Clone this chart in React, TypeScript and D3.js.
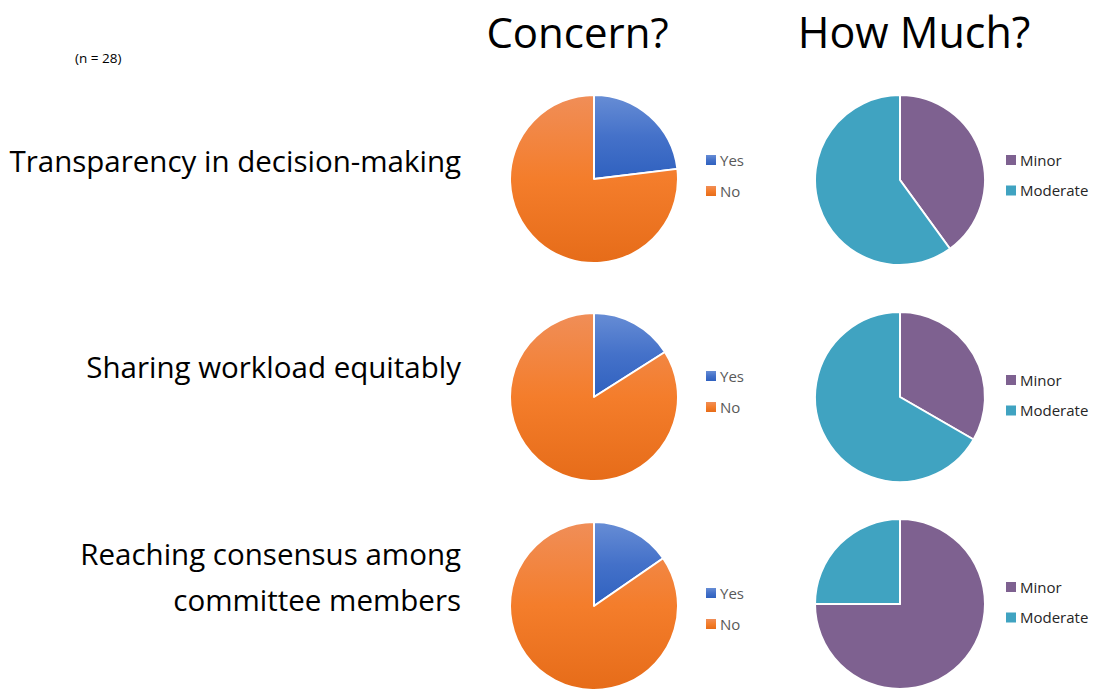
import React from "react";
import * as d3 from "d3";

const sampleNote = "(n = 28)";
const columnTitles = ["Concern?", "How Much?"];
const rowLabels = [
  ["Transparency in decision-making"],
  ["Sharing workload equitably"],
  ["Reaching consensus among", "committee members"],
];
const concernCategories = ["Yes", "No"];
const concernYes = [6, 4, 4];
const concernNo = [20, 21, 22];
const severityCategories = ["Minor", "Moderate"];
const severityMinor = [2, 1, 3];
const severityModerate = [3, 2, 1];

const W = 1094;
const H = 690;
const FONT = "'Open Sans', 'Noto Sans', sans-serif";

const concernCx = 594;
const severityCx = 900;
const rowCy = [179, 397, 606];
const severityCy = [180, 397, 604];
const rConcern = 84;
const rSeverity = 85;

const concernFill = ["url(#gBlue)", "url(#gOrange)"];
const severityFill = ["#7e6190", "#40a3c1"];

export default function App() {
  const pie = d3
    .pie<number>()
    .sort(null)
    .value((d) => d);
  const arcC = d3.arc<d3.PieArcDatum<number>>().innerRadius(0).outerRadius(rConcern);
  const arcS = d3.arc<d3.PieArcDatum<number>>().innerRadius(0).outerRadius(rSeverity);

  const labelY = [172, 378];
  return (
    <svg
      width={W}
      height={H}
      style={{ position: "absolute", left: 0, top: 0, background: "#fff" }}
      fontFamily={FONT}
    >
      <defs>
        <linearGradient id="gBlue" x1="0" y1="0" x2="0" y2="1">
          <stop offset="0" stopColor="#678dd5" />
          <stop offset="0.5" stopColor="#4471c9" />
          <stop offset="1" stopColor="#2f61bf" />
        </linearGradient>
        <linearGradient id="gOrange" x1="0" y1="0" x2="0" y2="1">
          <stop offset="0" stopColor="#f08e58" />
          <stop offset="0.5" stopColor="#f47d2b" />
          <stop offset="1" stopColor="#e66c19" />
        </linearGradient>
      </defs>

      <text x={75} y={63} fontSize={13.5} fill="#000">
        {sampleNote}
      </text>
      <text x={577.5} y={48} fontSize={42} textAnchor="middle" fill="#000">
        {columnTitles[0]}
      </text>
      <text x={914} y={48} fontSize={43} textAnchor="middle" fill="#000">
        {columnTitles[1]}
      </text>

      {rowLabels.map((lines, i) => (
        <g key={"lab" + i}>
          {lines.map((ln, j) => {
            const y = i < 2 ? labelY[i] : (lines.length > 1 ? 565 + j * 46 : 585);
            return (
              <text key={j} x={461} y={y} fontSize={29.5} textAnchor="end" fill="#000">
                {ln}
              </text>
            );
          })}
        </g>
      ))}

      {concernYes.map((yes, i) => {
        const arcs = pie([yes, concernNo[i]]);
        return (
          <g key={"c" + i} transform={`translate(${concernCx},${rowCy[i]})`}>
            {arcs.map((a, k) => (
              <path key={k} d={arcC(a) || ""} fill={concernFill[k]} stroke="#fff" strokeWidth={2} strokeLinejoin="round" />
            ))}
          </g>
        );
      })}

      {severityMinor.map((mi, i) => {
        const arcs = pie([mi, severityModerate[i]]);
        return (
          <g key={"s" + i} transform={`translate(${severityCx},${severityCy[i]})`}>
            {arcs.map((a, k) => (
              <path key={k} d={arcS(a) || ""} fill={severityFill[k]} stroke="#fff" strokeWidth={2} strokeLinejoin="round" />
            ))}
          </g>
        );
      })}

      {[160, 376, 593].map((y0, i) => (
        <g key={"lc" + i}>
          {concernCategories.map((c, k) => (
            <g key={c} transform={`translate(706,${y0 + k * 31})`}>
              <rect x={0} y={-5} width={10} height={10} fill={concernFill[k]} />
              <text x={14} y={5.5} fontSize={15} fill="#595959">
                {c}
              </text>
            </g>
          ))}
        </g>
      ))}

      {[160, 380, 587].map((y0, i) => (
        <g key={"ls" + i}>
          {severityCategories.map((c, k) => (
            <g key={c} transform={`translate(1006,${y0 + k * 30.5})`}>
              <rect x={0} y={-5} width={10} height={10} fill={severityFill[k]} />
              <text x={14} y={5.5} fontSize={15} fill="#262626">
                {c}
              </text>
            </g>
          ))}
        </g>
      ))}
    </svg>
  );
}
